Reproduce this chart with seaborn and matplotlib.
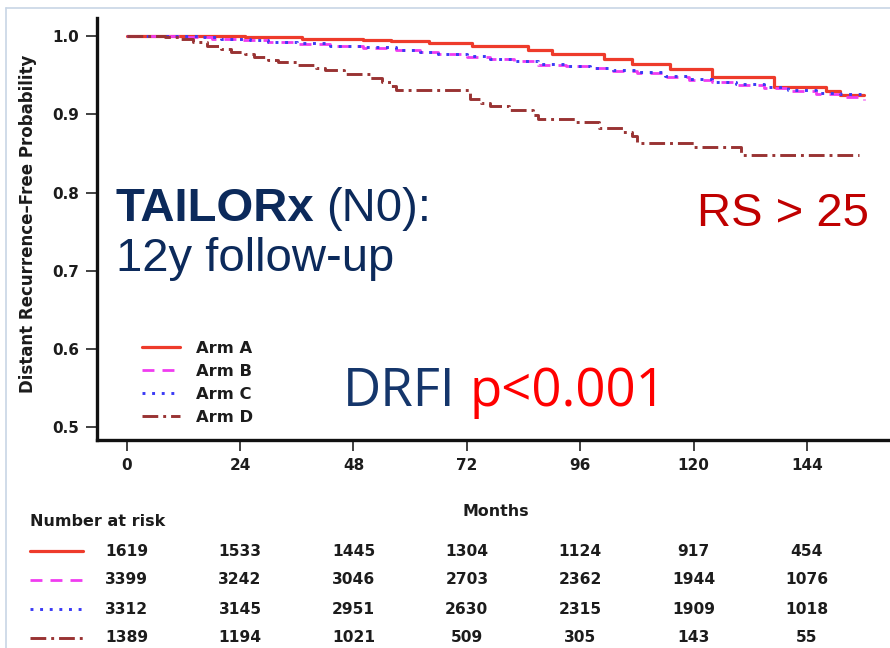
import matplotlib
matplotlib.use("Agg")
import matplotlib.pyplot as plt
from matplotlib.lines import Line2D
from matplotlib.transforms import blended_transform_factory
import seaborn as sns

# ---- data ---------------------------------------------------------------
arms = ["Arm A", "Arm B", "Arm C", "Arm D"]

months_a = [0, 25, 37, 50, 56, 64, 73, 85, 90, 101, 107, 115, 124, 137, 148, 151, 156]
prob_a = [1.000, 0.999, 0.997, 0.995, 0.994, 0.991, 0.988, 0.983, 0.978, 0.971,
          0.965, 0.958, 0.948, 0.935, 0.930, 0.925, 0.925]

months_b = [0, 12, 18, 24, 30, 36, 43, 50, 57, 62, 66, 72, 77, 82, 87, 93, 98, 103,
            108, 114, 119, 124, 129, 135, 140, 146, 151, 155, 156]
prob_b = [1.000, 0.999, 0.997, 0.995, 0.993, 0.990, 0.988, 0.985, 0.982, 0.980,
          0.977, 0.974, 0.971, 0.968, 0.964, 0.962, 0.959, 0.956, 0.953, 0.948,
          0.944, 0.941, 0.938, 0.934, 0.930, 0.926, 0.922, 0.920, 0.918]

months_c = [0, 10, 15, 20, 26, 30, 36, 43, 50, 57, 62, 66, 72, 77, 82, 87, 93, 98,
            103, 108, 114, 119, 124, 129, 135, 140, 146, 151, 155.5]
prob_c = [1.000, 1.000, 0.999, 0.997, 0.995, 0.993, 0.991, 0.988, 0.986, 0.983,
          0.980, 0.978, 0.975, 0.971, 0.968, 0.965, 0.962, 0.960, 0.957, 0.954,
          0.949, 0.945, 0.942, 0.939, 0.935, 0.931, 0.928, 0.926, 0.926]

months_d = [0, 8, 11.5, 14, 17, 20, 22, 25, 27, 30, 32, 36, 40, 42, 46, 51.6, 54, 56,
            57, 72.6, 75, 77, 81, 86, 87, 95, 100, 105, 107, 108, 120, 130, 155]
prob_d = [1.000, 0.999, 0.997, 0.993, 0.988, 0.984, 0.980, 0.977, 0.974, 0.970,
          0.967, 0.963, 0.960, 0.957, 0.952, 0.947, 0.942, 0.937, 0.931, 0.920,
          0.915, 0.911, 0.906, 0.899, 0.894, 0.890, 0.883, 0.878, 0.872, 0.864,
          0.858, 0.848, 0.848]

risk_months = [0, 24, 48, 72, 96, 120, 144]
risk_a = [1619, 1533, 1445, 1304, 1124, 917, 454]
risk_b = [3399, 3242, 3046, 2703, 2362, 1944, 1076]
risk_c = [3312, 3145, 2951, 2630, 2315, 1909, 1018]
risk_d = [1389, 1194, 1021, 509, 305, 143, 55]

y_ticks = [0.5, 0.6, 0.7, 0.8, 0.9, 1.0]
x_ticks = [0, 24, 48, 72, 96, 120, 144]

# ---- styling --------------------------------------------------------------
sns.set_style("ticks")
plt.rcParams["font.family"] = ["DejaVu Sans"]

W, H = 890, 648
INK = "#1c1c1c"
NAVY = "#0c2a5b"
styles = {
    "Arm A": dict(color="#ee3b2b", linestyle="-", lw=2.3),
    "Arm B": dict(color="#f03cf0", linestyle=(0, (4.3, 2.9)), lw=2.0),
    "Arm C": dict(color="#3a3af5", linestyle=(0, (1.0, 2.3)), lw=2.1),
    "Arm D": dict(color="#993333", linestyle=(0, (5.4, 1.7, 1.0, 1.7)), lw=2.1),
}
series = {
    "Arm A": (months_a, prob_a, risk_a),
    "Arm B": (months_b, prob_b, risk_b),
    "Arm C": (months_c, prob_c, risk_c),
    "Arm D": (months_d, prob_d, risk_d),
}

fig = plt.figure(figsize=(W / 100, H / 100), dpi=100)
fig.patch.set_facecolor("white")


def fx(px):
    return px / W


def fy(py):
    return 1 - py / H


ax = fig.add_axes([fx(97), fy(440), 1 - fx(97), (440 - 18) / H])
ax.set_facecolor("white")

for arm in arms:
    m, p, _ = series[arm]
    sns.lineplot(x=m, y=p, ax=ax, label=arm, drawstyle="steps-post",
                 estimator=None, errorbar=None, sort=False, **styles[arm])

ax.set_xlim(-6.3, 161.6)
ax.set_ylim(0.483, 1.0236)
ax.set_xticks(x_ticks)
ax.set_yticks(y_ticks)
ax.set_yticklabels([f"{v:.1f}" for v in y_ticks])
ax.tick_params(axis="both", direction="out", length=8, width=1.3, color="#333333",
               labelsize=11, labelcolor=INK, pad=5)
for lab in ax.get_xticklabels() + ax.get_yticklabels():
    lab.set_fontweight("bold")

sns.despine(ax=ax, top=True, right=True)
for side in ("left", "bottom"):
    ax.spines[side].set_linewidth(2.4)
    ax.spines[side].set_color("#111111")

ax.set_ylabel("Distant Recurrence\u2013Free Probability", fontsize=12,
              fontweight="bold", color=INK)
ax.yaxis.set_label_coords(-0.076, 0.512)
ax.set_xlabel("Months", fontsize=11.4, fontweight="bold", color=INK)
ax.xaxis.set_label_coords(0.503, -0.152)

ax.legend(loc="upper left", bbox_to_anchor=(fx(142), fy(341)),
          bbox_transform=fig.transFigure, frameon=False, borderpad=0,
          borderaxespad=0, handlelength=2.3, handletextpad=1.0,
          labelspacing=0.48, prop=dict(size=11.8, weight="bold"),
          labelcolor=INK)

# ---- number-at-risk table ---------------------------------------------------
fig.text(fx(30), fy(522), "Number at risk", fontsize=11.5, fontweight="bold",
         color=INK, va="center", ha="left")
row_y = [551, 580, 609, 638]
trans = blended_transform_factory(ax.transData, fig.transFigure)
for arm, ry in zip(arms, row_y):
    _, _, risk = series[arm]
    fig.add_artist(Line2D([fx(30), fx(83)], [fy(ry), fy(ry)],
                          transform=fig.transFigure, **styles[arm]))
    for mth, n in zip(risk_months, risk):
        ax.text(mth, fy(ry), f"{n}", transform=trans, ha="center", va="center",
                fontsize=11.2, fontweight="bold", color=INK, clip_on=False)

# ---- annotations ------------------------------------------------------------
big = dict(fontsize=34, va="baseline", ha="left", family="Liberation Sans")
fig.text(fx(115), fy(221), "TAILORx", color=NAVY, fontweight="bold", **big)
fig.text(fx(326), fy(221), "(N0):", color=NAVY, **big)
fig.text(fx(116), fy(271), "12y follow-up", color=NAVY, **big)
fig.text(fx(697), fy(226), "RS > 25", color="#c00000", **big)

drfi = dict(fontsize=38, va="baseline", ha="left", family="Open Sans")
fig.text(fx(343), fy(406), "DRFI", color="#15366b", **drfi)
fig.text(fx(470), fy(406), "p<0.001", color="#ff0000", **drfi)

# thin frame around the panel
frame = dict(transform=fig.transFigure, color="#c8d5e5", lw=1.2)
fig.add_artist(Line2D([fx(6), 1.0], [fy(8), fy(8)], **frame))
fig.add_artist(Line2D([fx(6), fx(6)], [fy(8), 0.0], **frame))

fig.savefig("out.png", dpi=100, facecolor="white")
